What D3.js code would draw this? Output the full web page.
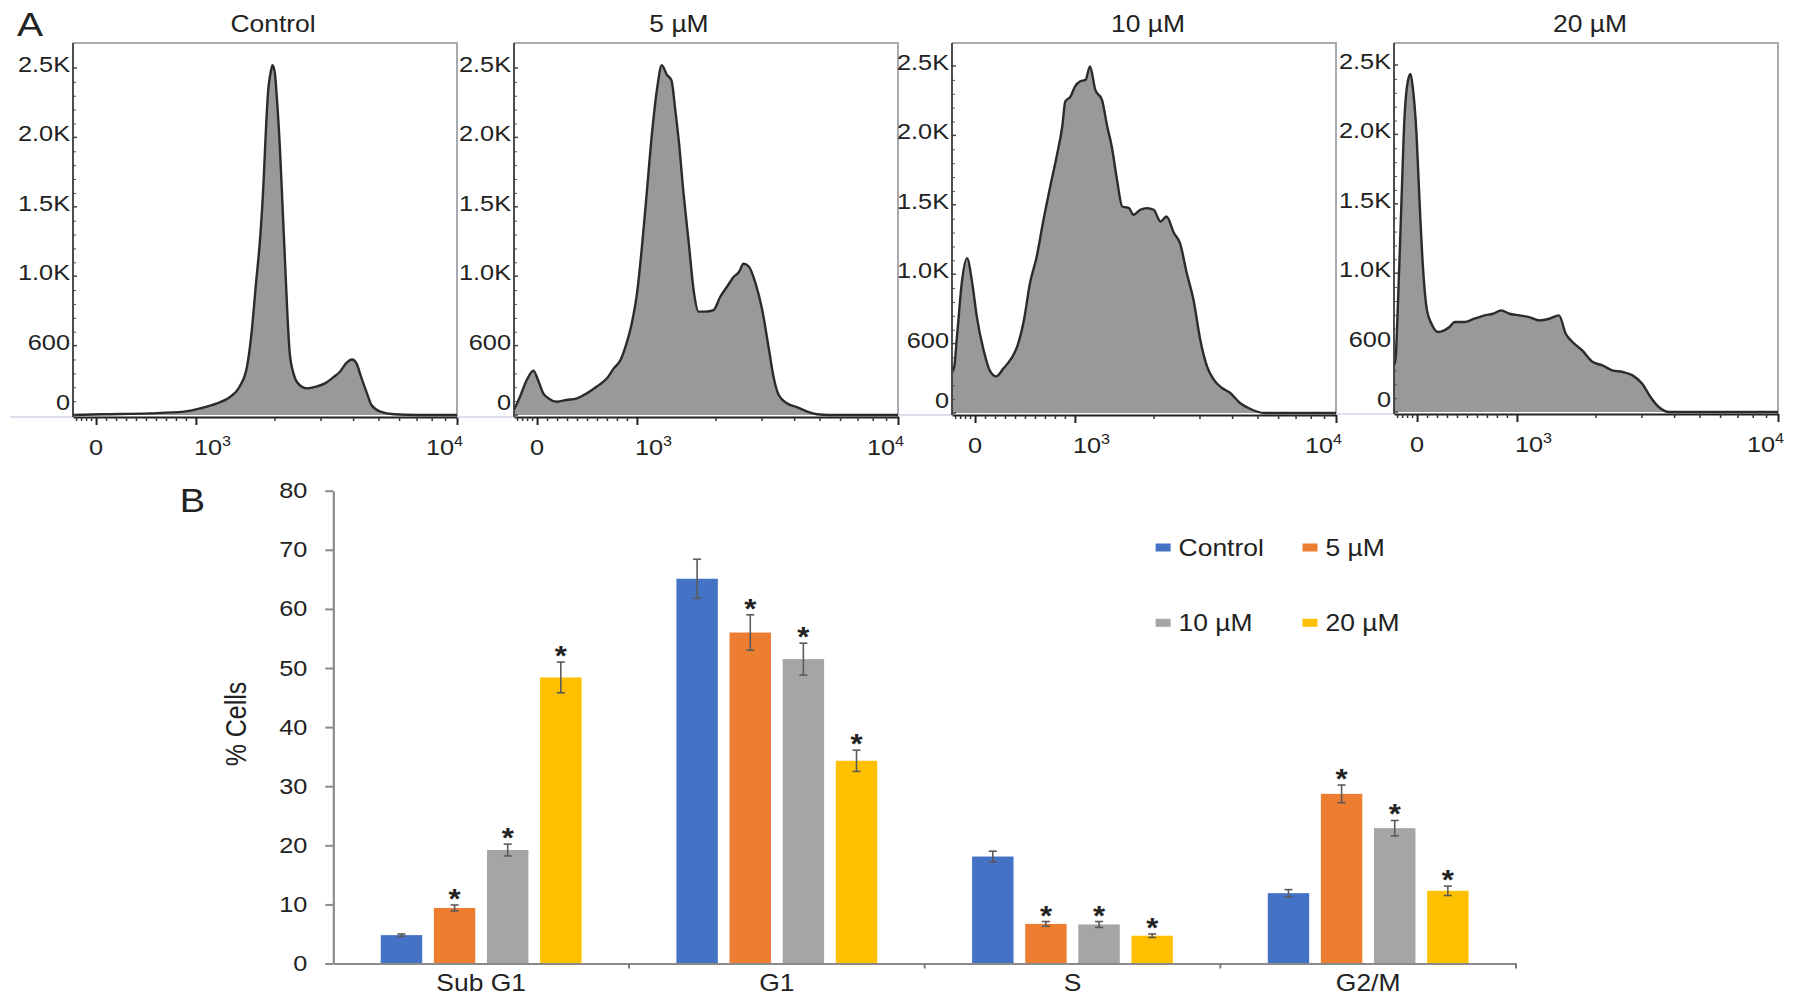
<!DOCTYPE html>
<html>
<head>
<meta charset="utf-8">
<script src="https://cdn.jsdelivr.net/npm/d3@7"></script>
<style>
  body { margin: 0; background: #fff; }
  svg text { font-family: "Liberation Sans", Arial, sans-serif; fill: #222; }
</style>
</head>
<body>
<svg id="fig" width="1795" height="1007"></svg>
<script>
//////////////////////////////////////////////
//////////////// data ////////////////////////
//////////////////////////////////////////////

// panel A: DNA content histograms, [display channel 0-256, cell count]
const panelTitles = ['Control', '5 µM', '10 µM', '20 µM'];

const histControl = [
  [0, 0], [20, 5], [51, 12], [74, 24], [85, 48], [96, 84], [105, 132], [111, 204],
  [116, 348], [119, 588], [122, 948], [125, 1308], [127, 1668], [128.5, 2030],
  [130, 2320], [132, 2480], [133, 2520], [134.5, 2470], [136, 2270], [138, 1910],
  [140, 1430], [141.5, 1070], [143, 710], [144.5, 445], [147, 300], [150, 228],
  [156, 192], [162, 204], [168, 228], [174, 276], [178, 312], [182, 372], [186, 400],
  [189, 372], [192, 276], [196, 156], [199, 72], [205, 24], [214, 5], [229, 0], [256, 0]
];

const hist5 = [
  [0, 40], [1, 60], [4, 132], [8.5, 252], [13, 320], [16, 252], [19.5, 156], [23, 120],
  [28.5, 96], [35, 108], [42, 120], [48.5, 156], [55, 204], [62, 264], [66.5, 336],
  [71, 396], [75, 516], [78.5, 660], [82, 876], [85.5, 1236], [88.5, 1600], [92, 2030],
  [95.5, 2360], [98.5, 2520], [102, 2450], [105, 2410], [107.5, 2200], [110, 1960],
  [113, 1600], [116.5, 1240], [120, 880], [123, 745], [127.5, 745], [133, 756],
  [137.5, 852], [142, 924], [146.5, 996], [150, 1030], [153, 1090], [156.5, 1070],
  [161, 950], [165.5, 756], [170, 470], [173, 276], [176.5, 144], [182, 84], [189, 55],
  [195.5, 24], [202, 5], [210, 0], [256, 0]
];

const hist10 = [
  [0, 330], [1, 312], [3.5, 576], [6.5, 936], [10, 1116], [13.5, 936], [16.5, 696],
  [21, 456], [25.5, 300], [29.5, 264], [34.5, 324], [39, 384], [43.5, 480], [48, 672],
  [52, 936], [56.5, 1128], [61, 1392], [65.5, 1632], [70, 1860], [73.5, 2064],
  [75.5, 2244], [79, 2280], [82, 2352], [85.5, 2390], [89, 2400], [92, 2496],
  [95.5, 2330], [100, 2256], [103.5, 2064], [106.5, 1920], [110, 1680], [113.5, 1488],
  [118, 1476], [121, 1428], [125.5, 1464], [130, 1476], [134.5, 1464], [139, 1380],
  [143, 1416], [148, 1296], [152, 1224], [156.5, 1008], [161, 816], [165.5, 528],
  [170, 336], [174.5, 240], [180, 180], [185.5, 144], [192, 72], [199, 29], [208, 0],
  [256, 0]
];

const hist20 = [
  [0, 350], [0.7, 348], [2.7, 804], [5, 1524], [7, 2124], [9.3, 2388], [11, 2436],
  [12.5, 2340], [15, 2004], [17, 1524], [19.3, 1044], [22, 732], [25, 636], [29.5, 576],
  [33.5, 588], [37, 612], [40.5, 648], [47, 648], [53.5, 672], [60.5, 696], [66, 708],
  [71.5, 732], [77, 708], [83.5, 696], [90, 684], [97, 660], [103.5, 672], [110, 696],
  [114.5, 564], [119, 504], [125.5, 444], [132.5, 360], [139, 336], [145.5, 300],
  [152.5, 288], [159, 264], [165.5, 204], [171, 108], [176.5, 36], [183.5, 0], [256, 0]
];

const countTicks = [0, 500, 1000, 1500, 2000, 2500];
const countTickLabels = ['0', '600', '1.0K', '1.5K', '2.0K', '2.5K'];
const countMinorTicks = [100, 200, 300, 400, 600, 700, 800, 900, 1100, 1200, 1300, 1400,
  1600, 1700, 1800, 1900, 2100, 2200, 2300, 2400];

const dnaTicks = [0, 1000, 10000];
const dnaTickBase = ['0', '10', '10'];
const dnaTickSup = ['', '3', '4'];
const dnaMinorTicks = [-200, -150, -100, -50, 100, 200, 300, 400, 500, 600, 700, 800, 900,
  2000, 3000, 4000, 5000, 6000, 7000, 8000, 9000];

// panel B: % cells per phase (mean, error, significance)
const phases = ['Sub G1', 'G1', 'S', 'G2/M'];
const groups = ['Control', '5 µM', '10 µM', '20 µM'];
const pctControl = [4.8, 65.1, 18.1, 11.9];
const pct5 = [9.4, 56.0, 6.7, 28.7];
const pct10 = [19.2, 51.5, 6.6, 22.9];
const pct20 = [48.4, 34.3, 4.7, 12.3];
const errControl = [0.2, 3.3, 0.9, 0.6];
const err5 = [0.5, 3.0, 0.4, 1.5];
const err10 = [1.0, 2.7, 0.5, 1.3];
const err20 = [2.6, 1.8, 0.3, 0.8];
const sigControl = [false, false, false, false];
const sig5 = [true, true, true, true];
const sig10 = [true, true, true, true];
const sig20 = [true, true, true, true];
const pctTicks = [0, 10, 20, 30, 40, 50, 60, 70, 80];

const groupColors = ['#4472C4', '#ED7D31', '#A5A5A5', '#FFC000'];

//////////////////////////////////////////////
//////////////// helpers /////////////////////
//////////////////////////////////////////////

// the original figure is slightly stretched sideways, text too
const SX = 1.15;
const svg = d3.select('#fig');

const label = (g, x, y, str, size, anchor = 'middle', extra = '') =>
  g.append('text')
    .attr('transform', `translate(${x},${y}) scale(${SX},1)${extra}`)
    .attr('text-anchor', anchor)
    .attr('font-size', size)
    .text(str);

// stretch the text that d3.axis makes, keep its anchor point
const stretchAxisText = (sel, size) => {
  sel.attr('font-size', null).attr('font-family', null);
  sel.selectAll('text').each(function () {
    const t = d3.select(this);
    const tx = +t.attr('x') || 0;
    const ty = +t.attr('y') || 0;
    t.attr('x', 0).attr('y', 0)
      .attr('transform', `translate(${tx},${ty}) scale(${SX},1)`)
      .attr('font-size', size)
      .style('fill', '#222');
  });
};

// flow display scale: linear up to 10^3, log above
const dnaT = v => v <= 1000 ? v / 1000 : 1 + 2.615 * Math.log10(v / 1000);

//////////////////////////////////////////////
//////////////// panel A /////////////////////
//////////////////////////////////////////////

const panelData = [histControl, hist5, hist10, hist20];
const panelLeft = [73, 514, 952, 1394];
const panelZero = [415, 415, 413, 412];
const titleShift = [8, -27, 4, 4];
const panelW = 384, panelTop = 43, countSpan = 347;

label(svg, 30, 36, 'A', 34);

panelData.forEach((data, i) => {
  const left = panelLeft[i];
  const zero = panelZero[i];
  const axisY = zero + 2;
  const g = svg.append('g').attr('transform', `translate(${left},0)`);

  const x = d3.scaleLinear().domain([0, 256]).range([0, panelW]);
  const xDna = d3.scaleLinear().domain([dnaT(-231), dnaT(10000)]).range([0, panelW]);
  const y = d3.scaleLinear().domain([0, 2500]).range([zero, zero - countSpan]);

  // faint baseline running into the gap on the left
  const gapStart = i === 0 ? 10 - left : panelLeft[i - 1] + panelW - left;
  g.append('line')
    .attr('x1', gapStart).attr('x2', 0)
    .attr('y1', axisY).attr('y2', axisY)
    .attr('stroke', '#d4d4e6').attr('stroke-width', 1.5);

  // frame, top and right
  g.append('path')
    .attr('d', `M0,${panelTop}H${panelW}V${axisY}`)
    .attr('fill', 'none')
    .attr('stroke', '#a9a9b0')
    .attr('stroke-width', 2);

  // histogram
  const area = d3.area()
    .x(d => x(d[0]))
    .y0(zero)
    .y1(d => y(d[1]))
    .curve(d3.curveMonotoneX);
  const line = d3.line()
    .x(d => x(d[0]))
    .y(d => y(d[1]))
    .curve(d3.curveMonotoneX);

  g.append('path').datum(data).attr('d', area).attr('fill', '#999999');
  g.append('path').datum(data).attr('d', line)
    .attr('fill', 'none')
    .attr('stroke', '#2b2b2b')
    .attr('stroke-width', 2.4)
    .attr('stroke-linejoin', 'round');

  // count axis
  const yAxisG = g.append('g')
    .attr('color', '#444')
    .call(d3.axisLeft(y)
      .tickValues(countTicks)
      .tickFormat((d, j) => countTickLabels[j])
      .tickSize(-4)
      .tickPadding(3)
      .tickSizeOuter(0));
  yAxisG.select('.domain').remove();
  yAxisG.selectAll('.tick line').attr('stroke-width', 1.5);
  // labels sit a little above their tick, zero raised like FlowJo does
  yAxisG.selectAll('.tick').attr('transform', d => `translate(0,${y(d) - (d === 0 ? 12 : 3)})`);
  yAxisG.selectAll('.tick line').attr('transform', d => `translate(0,${d === 0 ? 12 : 3})`);
  stretchAxisText(yAxisG, 22);

  g.append('g')
    .attr('color', '#555')
    .call(d3.axisLeft(y).tickValues(countMinorTicks).tickFormat('').tickSize(-3).tickSizeOuter(0))
    .call(a => a.select('.domain').remove());

  g.append('line')
    .attr('x1', 0).attr('x2', 0)
    .attr('y1', panelTop).attr('y2', axisY)
    .attr('stroke', '#3a3a3a').attr('stroke-width', 1.8);

  // DNA axis
  const xAxisG = g.append('g')
    .attr('transform', `translate(0,${axisY})`)
    .attr('color', '#222')
    .call(d3.axisBottom(xDna)
      .tickValues(dnaTicks.map(dnaT))
      .tickFormat('')
      .tickSize(8)
      .tickSizeOuter(0));
  xAxisG.select('.domain').attr('stroke-width', 2.2);
  xAxisG.selectAll('.tick line').attr('stroke-width', 2);

  g.append('g')
    .attr('transform', `translate(0,${axisY})`)
    .attr('color', '#333')
    .call(d3.axisBottom(xDna).tickValues(dnaMinorTicks.map(dnaT)).tickFormat('').tickSize(4).tickSizeOuter(0))
    .call(a => a.select('.domain').remove())
    .call(a => a.selectAll('.tick line').attr('stroke-width', 1.5));

  dnaTicks.forEach((v, j) => {
    const anchor = j === 0 ? 'middle' : (j === 1 ? 'start' : 'end');
    const dx = j === 0 ? 0 : (j === 1 ? -2 : 6);
    const t = label(g, xDna(dnaT(v)) + dx, zero + 40, '', 22, anchor);
    t.append('tspan').text(dnaTickBase[j]);
    if (dnaTickSup[j]) {
      t.append('tspan').attr('dy', -9).attr('font-size', 14).text(dnaTickSup[j]);
    }
  });

  // title
  label(g, panelW / 2 + titleShift[i], 32, panelTitles[i], 23);
});

//////////////////////////////////////////////
//////////////// panel B /////////////////////
//////////////////////////////////////////////

const pctValues = [pctControl, pct5, pct10, pct20];
const pctErrors = [errControl, err5, err10, err20];
const pctSig = [sigControl, sig5, sig10, sig20];

const bars = [];
phases.forEach((phase, p) => {
  groups.forEach((grp, s) => {
    bars.push({ phase, grp, s, value: pctValues[s][p], err: pctErrors[s][p], sig: pctSig[s][p] });
  });
});

const xPhase = d3.scaleBand().domain(phases).range([333.3, 1516]).padding(0);
const xGroup = d3.scaleBand().domain(groups).range([0, xPhase.bandwidth()])
  .paddingInner(0.22).paddingOuter(0.893);
const yPct = d3.scaleLinear().domain([0, 80]).range([963.5, 490.7]);

label(svg, 192.5, 511.5, 'B', 33);

const chart = svg.append('g');

// y axis
const yAxisB = chart.append('g')
  .attr('transform', `translate(${xPhase.range()[0]},0)`)
  .attr('color', '#8a8a8a')
  .call(d3.axisLeft(yPct).tickValues(pctTicks).tickSize(8).tickPadding(18).tickSizeOuter(0));
yAxisB.select('.domain').attr('stroke-width', 2.2);
yAxisB.selectAll('.tick line').attr('stroke-width', 2);
stretchAxisText(yAxisB, 22);

label(chart, 236, 724, '% Cells', 25, 'middle', ' rotate(-90)').attr('dy', '0.35em');

// bars
chart.selectAll('rect.bar')
  .data(bars)
  .join('rect')
  .attr('class', 'bar')
  .attr('x', d => xPhase(d.phase) + xGroup(d.grp))
  .attr('width', xGroup.bandwidth())
  .attr('y', d => yPct(d.value))
  .attr('height', d => yPct(0) - yPct(d.value))
  .attr('fill', d => groupColors[d.s]);

// error bars
const eb = chart.selectAll('g.err')
  .data(bars)
  .join('g')
  .attr('class', 'err')
  .attr('transform', d => `translate(${xPhase(d.phase) + xGroup(d.grp) + xGroup.bandwidth() / 2},0)`)
  .attr('stroke', '#5a5a5a')
  .attr('stroke-width', 1.6);
eb.append('line').attr('y1', d => yPct(d.value - d.err)).attr('y2', d => yPct(d.value + d.err));
eb.append('line').attr('x1', -4).attr('x2', 4).attr('y1', d => yPct(d.value + d.err)).attr('y2', d => yPct(d.value + d.err));
eb.append('line').attr('x1', -4).attr('x2', 4).attr('y1', d => yPct(d.value - d.err)).attr('y2', d => yPct(d.value - d.err));

// significance marks
bars.filter(d => d.sig).forEach(d => {
  const cx = xPhase(d.phase) + xGroup(d.grp) + xGroup.bandwidth() / 2;
  const cy = yPct(d.value + d.err) - 12;
  label(chart, cx, cy + 15, '*', 27).attr('font-weight', 'bold');
});

// x axis
const xAxisB = chart.append('g')
  .attr('transform', `translate(0,${yPct(0)})`)
  .attr('color', '#8a8a8a')
  .call(d3.axisBottom(xPhase).tickSize(0).tickPadding(11).tickSizeOuter(0));
xAxisB.select('.domain').attr('stroke-width', 2.2);
stretchAxisText(xAxisB, 23);

// boundary ticks between phases
chart.selectAll('line.bound')
  .data(phases.slice(1).map(p => xPhase(p)).concat([xPhase.range()[1]]))
  .join('line')
  .attr('class', 'bound')
  .attr('x1', d => d).attr('x2', d => d)
  .attr('y1', yPct(0)).attr('y2', yPct(0) + 5)
  .attr('stroke', '#7a7a7a')
  .attr('stroke-width', 2);

// legend
const legendCols = [1155.6, 1302.5];
const legendRows = [547.5, 622.8];
const legend = chart.selectAll('g.leg')
  .data(groups)
  .join('g')
  .attr('class', 'leg')
  .attr('transform', (d, i) => `translate(${legendCols[i % 2]},${legendRows[Math.floor(i / 2)]})`);
legend.append('rect')
  .attr('x', 0).attr('y', -4)
  .attr('width', 15).attr('height', 8)
  .attr('fill', (d, i) => groupColors[i]);
legend.each(function (d) {
  label(d3.select(this), 23, 8, d, 23, 'start');
});
</script>
</body>
</html>
